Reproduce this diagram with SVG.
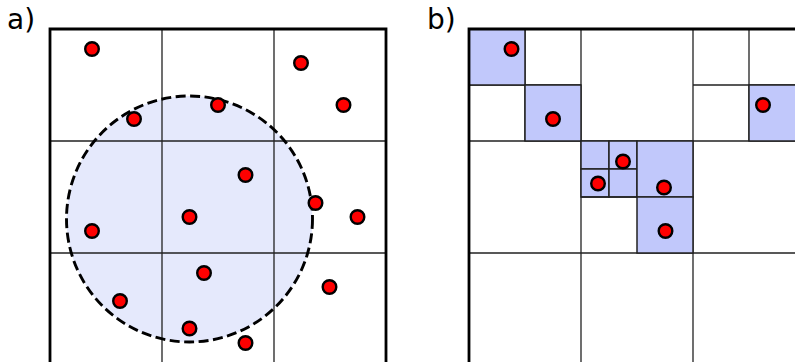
<svg xmlns="http://www.w3.org/2000/svg" width="795" height="362" viewBox="0 0 795 362">
<style>
.lbl{font-family:"DejaVu Sans",sans-serif;font-size:28px;fill:#000}
.outer{fill:none;stroke:#000;stroke-width:2.8}
.grid{fill:none;stroke:#222;stroke-width:1.3}
.cell{fill:#c1c8fb;stroke:#222;stroke-width:1.5}
.dot{fill:#f00;stroke:#000;stroke-width:2.4}
.range{fill:#e5e9fc;stroke:none}
.dash{fill:none;stroke:#000;stroke-width:2.9;stroke-dasharray:10 4.5}
</style>
<rect width="795" height="362" fill="#fff"/>
<g id="panel-a">
<text class="lbl" x="7" y="29">a)</text>
<circle class="range" cx="189.5" cy="219" r="123"/>
<path class="grid" d="M162 29V362M274 29V362M50 141H386M50 253H386"/>
<circle class="dash" cx="189.5" cy="219" r="123"/>
<path class="outer" d="M50 362V29H386V362"/>
<g id="points-a">
<circle class="dot" cx="92" cy="49" r="6.8"/>
<circle class="dot" cx="301" cy="63" r="6.8"/>
<circle class="dot" cx="134" cy="119" r="6.8"/>
<circle class="dot" cx="218" cy="105" r="6.8"/>
<circle class="dot" cx="343.5" cy="105" r="6.8"/>
<circle class="dot" cx="245.5" cy="175" r="6.8"/>
<circle class="dot" cx="315.5" cy="203" r="6.8"/>
<circle class="dot" cx="357.5" cy="217" r="6.8"/>
<circle class="dot" cx="189.5" cy="217" r="6.8"/>
<circle class="dot" cx="92" cy="231" r="6.8"/>
<circle class="dot" cx="204" cy="273" r="6.8"/>
<circle class="dot" cx="329.5" cy="287" r="6.8"/>
<circle class="dot" cx="120" cy="301" r="6.8"/>
<circle class="dot" cx="189.5" cy="328.5" r="6.8"/>
<circle class="dot" cx="245.5" cy="343" r="6.8"/>
</g>
</g>
<g id="panel-b">
<text class="lbl" x="427" y="29">b)</text>
<path class="grid" d="M581 29V362M693 29V362M469 141H795M469 253H795M525 29V141M469 85H581M749 29V141M693 85H795"/>
<g id="cells-b">
<rect class="cell" x="469" y="29" width="56" height="56"/>
<rect class="cell" x="525" y="85" width="56" height="56"/>
<rect class="cell" x="749" y="85" width="56" height="56"/>
<rect class="cell" x="581" y="141" width="28" height="28"/>
<rect class="cell" x="609" y="141" width="28" height="28"/>
<rect class="cell" x="581" y="169" width="28" height="28"/>
<rect class="cell" x="609" y="169" width="28" height="28"/>
<rect class="cell" x="637" y="141" width="56" height="56"/>
<rect class="cell" x="637" y="197" width="56" height="56"/>
</g>
<path class="grid" d="M581 197H637"/>
<path class="outer" d="M469 362V29H795"/>
<g id="points-b">
<circle class="dot" cx="511.5" cy="49" r="6.8"/>
<circle class="dot" cx="553" cy="119" r="6.8"/>
<circle class="dot" cx="763" cy="105" r="6.8"/>
<circle class="dot" cx="623" cy="161.5" r="6.8"/>
<circle class="dot" cx="598" cy="183.5" r="6.8"/>
<circle class="dot" cx="664" cy="187.5" r="6.8"/>
<circle class="dot" cx="665.5" cy="231" r="6.8"/>
</g>
</g>
</svg>
